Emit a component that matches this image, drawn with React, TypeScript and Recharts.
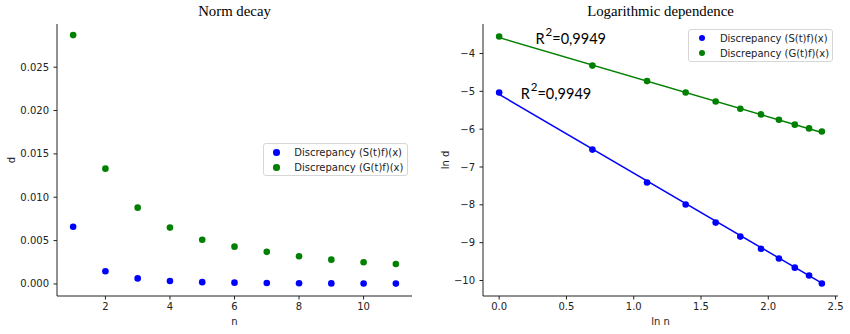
import React from "react";
import {
  ScatterChart,
  Scatter,
  XAxis,
  YAxis,
  Label,
  ReferenceDot,
} from "recharts";

// n = 1..11
const nValues = [1, 2, 3, 4, 5, 6, 7, 8, 9, 10, 11];
const sDiscrepancy = [0.0066, 0.00146, 0.00064, 0.00034, 0.00021, 0.00015, 0.00011, 0.00008, 0.000064, 0.000052, 0.000042];
const gDiscrepancy = [0.0287, 0.0133, 0.0088, 0.0065, 0.0051, 0.0043, 0.0037, 0.0032, 0.0028, 0.0025, 0.0023];

// log-log view
const lnN = [0, 0.693, 1.099, 1.386, 1.609, 1.792, 1.946, 2.079, 2.197, 2.303, 2.398];
const lnS = [-5.03, -6.54, -7.41, -7.99, -8.47, -8.84, -9.16, -9.42, -9.66, -9.87, -10.08];
const lnG = [-3.55, -4.32, -4.73, -5.03, -5.27, -5.46, -5.61, -5.75, -5.88, -5.98, -6.06];

// regression lines (end points)
const fitX = [0, 2.398];
const sFit = [-5.08, -10.07];
const gFit = [-3.58, -6.09];

const leftXTicks = [2, 4, 6, 8, 10];
const leftYTicks = [0, 0.005, 0.01, 0.015, 0.02, 0.025];
const rightXTicks = [0, 0.5, 1, 1.5, 2, 2.5];
const rightYTicks = [-10, -9, -8, -7, -6, -5, -4];

const r2Label = "0,9949";

const BLUE = "#0000ff";
const GREEN = "#008000";
const INK = "#222";
const FONT = '"DejaVu Sans", sans-serif';

const legendItems = [
  { label: "Discrepancy (S(t)f)(x)", color: BLUE },
  { label: "Discrepancy (G(t)f)(x)", color: GREEN },
];

const zip = (xs: number[], ys: number[]) => xs.map((x, i) => ({ x, y: ys[i] }));

const dot = (color: string) => (p: any) => <circle cx={p.cx} cy={p.cy} r={3.3} fill={color} />;
const noDot = () => <g />;

const tickStyle = { fontSize: 10, fill: INK, fontFamily: FONT };
const minus = (t: number) => (t < 0 ? `\u2212${Math.abs(t)}` : String(t));

function YTitle({ viewBox, value, dx }: any) {
  const cx = viewBox.x + dx;
  const cy = viewBox.y + viewBox.height / 2;
  return (
    <text
      x={cx}
      y={cy}
      transform={`rotate(-90 ${cx} ${cy})`}
      textAnchor="middle"
      dominantBaseline="central"
      style={{ fontSize: 10, fill: INK, fontFamily: FONT }}
    >
      {value}
    </text>
  );
}

function R2Text(p: any) {
  return (
    <text x={p.cx} y={p.cy} style={{ fontSize: 14.5, fill: "#000", fontFamily: "Lato, sans-serif" }}>
      R
      <tspan dx={1} dy={-8.5} style={{ fontSize: 11.5 }}>2</tspan>
      <tspan dy={8.5}>={r2Label}</tspan>
    </text>
  );
}

function LegendBox({ left, top }: { left: number; top: number }) {
  return (
    <div
      style={{
        position: "absolute",
        left,
        top,
        width: 145,
        height: 33,
        border: "1px solid #d6d6d6",
        borderRadius: 3,
        background: "rgba(255,255,255,0.8)",
        boxSizing: "border-box",
        fontFamily: FONT,
        fontSize: 10,
        color: INK,
      }}
    >
      {legendItems.map((it, i) => (
        <div
          key={it.label}
          style={{ position: "absolute", left: 0, top: 0.5 + i * 15, height: 15, display: "flex", alignItems: "center", whiteSpace: "nowrap" }}
        >
          <span style={{ display: "inline-block", width: 6.6, height: 6.6, borderRadius: "50%", background: it.color, marginLeft: 9.3, marginRight: 14.7 }} />
          <span>{it.label}</span>
        </div>
      ))}
    </div>
  );
}

function Title({ text, center }: { text: string; center: number }) {
  return (
    <div
      style={{
        position: "absolute",
        left: center - 150,
        width: 300,
        top: 4.3,
        textAlign: "center",
        fontFamily: '"Liberation Serif", serif',
        fontSize: 14.8,
        lineHeight: "14.8px",
        color: "#000",
      }}
    >
      {text}
    </div>
  );
}

export default function App() {
  const leftS = zip(nValues, sDiscrepancy);
  const leftG = zip(nValues, gDiscrepancy);
  const rightS = zip(lnN, lnS);
  const rightG = zip(lnN, lnG);
  const sLine = zip(fitX, sFit);
  const gLine = zip(fitX, gFit);

  const axisProps = {
    axisLine: { stroke: INK, strokeWidth: 1 },
    tickLine: { stroke: INK, strokeWidth: 1 },
    tickSize: 3.5,
    tick: tickStyle,
    allowDataOverflow: true,
  };

  return (
    <div style={{ position: "absolute", left: 0, top: 0, width: 850, height: 334, background: "#fff" }}>
      <div style={{ position: "absolute", left: 0, top: 0 }}>
        <ScatterChart width={425} height={334} margin={{ top: 24, right: 13, bottom: 0, left: 0 }}>
          <XAxis type="number" dataKey="x" domain={[0.5, 11.5]} ticks={leftXTicks} height={38} tickMargin={3} {...axisProps}>
            <Label value="n" position="insideBottom" offset={9} style={{ fontSize: 10, fill: INK, fontFamily: FONT }} />
          </XAxis>
          <YAxis
            type="number"
            dataKey="y"
            domain={[-0.00139, 0.02998]}
            ticks={leftYTicks}
            width={57}
            tickMargin={4.5}
            tickFormatter={(t: number) => t.toFixed(3)}
            {...axisProps}
          >
            <Label content={(p: any) => <YTitle {...p} value="d" dx={11.7} />} />
          </YAxis>
          <Scatter data={leftS} fill={BLUE} shape={dot(BLUE)} isAnimationActive={false} />
          <Scatter data={leftG} fill={GREEN} shape={dot(GREEN)} isAnimationActive={false} />
        </ScatterChart>
      </div>
      <div style={{ position: "absolute", left: 425, top: 0 }}>
        <ScatterChart width={425} height={334} margin={{ top: 24, right: 12, bottom: 0, left: 0 }}>
          <XAxis
            type="number"
            dataKey="x"
            domain={[-0.12, 2.518]}
            ticks={rightXTicks}
            height={38}
            tickMargin={3}
            tickFormatter={(t: number) => t.toFixed(1)}
            {...axisProps}
          >
            <Label value="ln n" position="insideBottom" offset={9} style={{ fontSize: 10, fill: INK, fontFamily: FONT }} />
          </XAxis>
          <YAxis
            type="number"
            dataKey="y"
            domain={[-10.41, -3.22]}
            ticks={rightYTicks}
            width={58}
            tickMargin={4.5}
            tickFormatter={minus}
            {...axisProps}
          >
            <Label content={(p: any) => <YTitle {...p} value="ln d" dx={20} />} />
          </YAxis>
          <Scatter data={sLine} line={{ stroke: BLUE, strokeWidth: 1.5 }} shape={noDot} isAnimationActive={false} />
          <Scatter data={gLine} line={{ stroke: GREEN, strokeWidth: 1.5 }} shape={noDot} isAnimationActive={false} />
          <Scatter data={rightS} fill={BLUE} shape={dot(BLUE)} isAnimationActive={false} />
          <Scatter data={rightG} fill={GREEN} shape={dot(GREEN)} isAnimationActive={false} />
          <ReferenceDot x={0.27} y={-3.75} r={0} shape={R2Text} />
          <ReferenceDot x={0.16} y={-5.21} r={0} shape={R2Text} />
        </ScatterChart>
      </div>
      <Title text="Norm decay" center={234.5} />
      <Title text="Logarithmic dependence" center={660.5} />
      <LegendBox left={262.7} top={143.3} />
      <LegendBox left={688.3} top={29} />
    </div>
  );
}
